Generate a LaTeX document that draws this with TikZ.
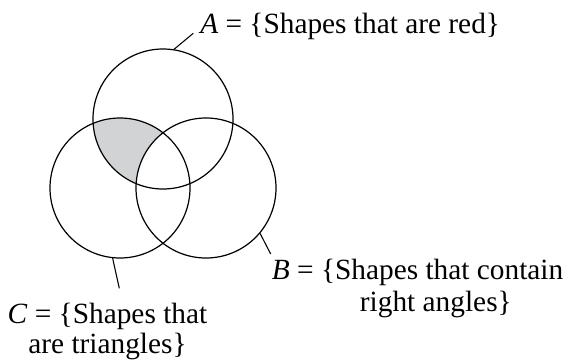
\documentclass[tikz,border=0pt]{standalone}
\usepackage{fontspec}
\setmainfont{Liberation Serif}
\definecolor{vennshade}{RGB}{210,211,213}

\begin{document}
\begin{tikzpicture}[x=0.75pt,y=0.75pt,yscale=-1,xscale=1,
  setcircle/.style={draw, circle, minimum size=105pt, inner sep=0pt, line width=0.9pt},
  leader/.style={line width=0.8pt},
  setlabel/.style={inner sep=0pt, font=\fontsize{22}{24}\selectfont}]
\useasboundingbox (0,0) rectangle (567,361);

\coordinate (cA) at (163,119);
\coordinate (cB) at (206,188);
\coordinate (cC) at (120,188);

%Shaded region: A and C, not B
\begin{scope}
\clip (cA) circle [radius=70];
\clip (cC) circle [radius=70];
\fill [vennshade] (cC) circle [radius=70];
\fill [white] (cB) circle [radius=70];
\end{scope}

%Shape: Circles
\node [setcircle] (circA) at (cA) {};
\node [setcircle] (circB) at (cB) {};
\node [setcircle] (circC) at (cC) {};

% Text Node
\node [setlabel, anchor=base west] (labA) at (200,33.3) {\textit{A} = \{Shapes that are red\}};
% Text Node
\node [setlabel, anchor=base west, align=left] (labB) at (271.7,311) {\textit{B} = \{Shapes that contain\\\hspace*{66pt}right angles\}};
% Text Node
\node [setlabel, anchor=base, align=center] (labC) at (107.5,353.3) {\textit{C} = \{Shapes that\\[-1.5pt]are triangles\}};

%Straight Lines
\coordinate (ldA) at (193.3,33.3);
\coordinate (ldB) at (270.7,254);
\coordinate (ldC) at (119.3,288.3);
\draw [leader] (circA.81.6) -- (ldA);
\draw [leader] (circB.-40) -- (ldB);
\draw [leader] (circC.264.3) -- (ldC);

\end{tikzpicture}
\end{document}
